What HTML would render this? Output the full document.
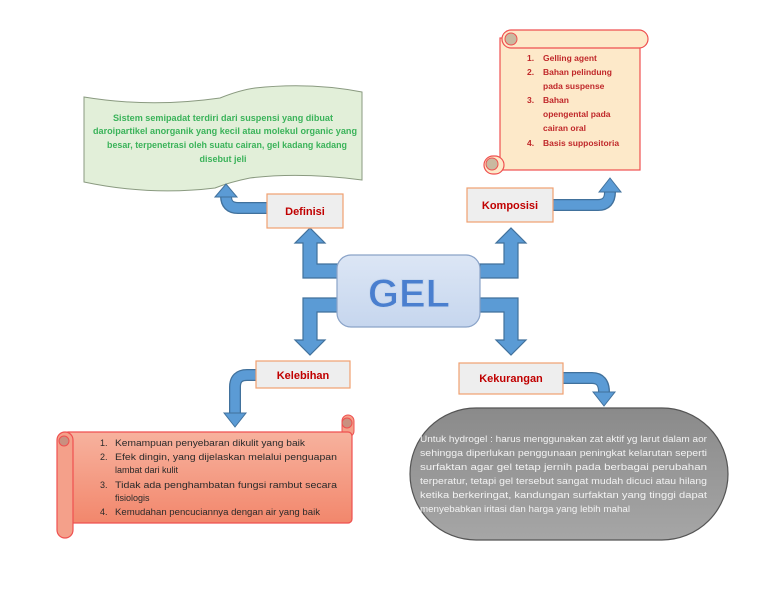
<!DOCTYPE html>
<html><head><meta charset="utf-8"><style>
html,body{margin:0;padding:0;background:#fff;}
svg{display:block;font-family:"Liberation Sans",sans-serif;}
</style></head><body>
<svg width="768" height="594" viewBox="0 0 768 594" xmlns="http://www.w3.org/2000/svg">
<defs>
<linearGradient id="gr" x1="0" y1="0" x2="0" y2="1"><stop offset="0" stop-color="#8a8a8a"/><stop offset="1" stop-color="#a6a6a6"/></linearGradient>
<linearGradient id="sal" x1="0" y1="0" x2="0" y2="1"><stop offset="0" stop-color="#f7b29e"/><stop offset="1" stop-color="#f2876c"/></linearGradient>
<linearGradient id="gb" x1="0" y1="0" x2="0" y2="1"><stop offset="0" stop-color="#dce6f5"/><stop offset="1" stop-color="#c6d6ee"/></linearGradient>
</defs>

<path d="M84,97 Q150,108 220,98 Q240,90 255,88 Q310,82 362,92 L362,180 Q300,172 250,178 Q230,182 215,188 Q150,196 84,182 Z" fill="#e2efd9" stroke="#8a9a80" stroke-width="1"/>
<g fill="#3bb35a" font-size="9" font-weight="bold" text-anchor="start">
<text x="113" y="121" textLength="220" lengthAdjust="spacingAndGlyphs">Sistem semipadat terdiri dari suspensi yang dibuat</text>
<text x="93" y="134" textLength="264" lengthAdjust="spacingAndGlyphs">daroipartikel anorganik yang kecil atau molekul organic yang</text>
<text x="107" y="148" textLength="240" lengthAdjust="spacingAndGlyphs">besar, terpenetrasi oleh suatu cairan, gel kadang kadang</text>
<text x="223" y="162" text-anchor="middle">disebut jeli</text>
</g>

<rect x="500" y="38" width="140" height="132" fill="#fde9c9" stroke="#ef5050" stroke-width="1.2"/>
<rect x="502" y="30" width="146" height="18" rx="9" fill="#fde9c9" stroke="#ef5050" stroke-width="1.2"/>
<circle cx="511" cy="39" r="6" fill="#c9b9a0" stroke="#ef5050"/>
<rect x="484" y="156" width="20" height="18" rx="9" fill="#fde9c9" stroke="#ef5050" stroke-width="1.2"/>
<circle cx="492" cy="164" r="6" fill="#c9b9a0" stroke="#ef5050"/>
<g fill="#c0282a" font-size="8.5" font-weight="bold">
<text x="527" y="61">1.</text><text x="543" y="61">Gelling agent</text>
<text x="527" y="75">2.</text><text x="543" y="75">Bahan pelindung</text>
<text x="543" y="89">pada suspense</text>
<text x="527" y="103">3.</text><text x="543" y="103">Bahan</text>
<text x="543" y="117">opengental pada</text>
<text x="543" y="131">cairan oral</text>
<text x="527" y="146">4.</text><text x="543" y="146">Basis suppositoria</text>
</g>

<g fill="#5b9bd5" stroke="#41719c" stroke-width="1.2">
<polygon points="338,264 317,264 317,243 325,243 310,228 295,243 303,243 303,278 338,278"/>
<polygon points="480,264 504,264 504,243 496,243 511,228 526,243 518,243 518,278 480,278"/>
<polygon points="338,298 303,298 303,340 295,340 310,355 325,340 317,340 317,312 338,312"/>
<polygon points="480,298 518,298 518,340 526,340 511,355 496,340 504,340 504,312 480,312"/>
</g>
<g fill="none" stroke-linecap="butt">
<path d="M267,208 H238 Q226,208 226,196" stroke="#41719c" stroke-width="12"/>
<path d="M268,208 H238 Q226,208 226,195" stroke="#5b9bd5" stroke-width="9.5"/>
<path d="M553,205 H598 Q610,205 610,192" stroke="#41719c" stroke-width="12"/>
<path d="M552,205 H598 Q610,205 610,191" stroke="#5b9bd5" stroke-width="9.5"/>
<path d="M563,378 H592 Q604,378 604,392" stroke="#41719c" stroke-width="12"/>
<path d="M562,378 H592 Q604,378 604,393" stroke="#5b9bd5" stroke-width="9.5"/>
<path d="M256,375 H247 Q235,375 235,387 V413" stroke="#41719c" stroke-width="12"/>
<path d="M257,375 H247 Q235,375 235,387 V414" stroke="#5b9bd5" stroke-width="9.5"/>
</g>
<g fill="#5b9bd5" stroke="#41719c" stroke-width="1">
<polygon points="215,197 226,184 237,197"/>
<polygon points="599,192 610,178 621,192"/>
<polygon points="593,392 604,406 615,392"/>
<polygon points="224,413 235,427 246,413"/>
</g>

<rect x="337" y="255" width="143" height="72" rx="14" fill="url(#gb)" stroke="#8aa3c8" stroke-width="1.2"/>
<text x="409" y="307" text-anchor="middle" font-size="40" font-weight="bold" fill="#4a7fcf" stroke="#c8d8ee" stroke-width="1">GEL</text>

<g fill="#eeeeee" stroke="#f0a070" stroke-width="1.2">
<rect x="267" y="194" width="76" height="34"/>
<rect x="467" y="188" width="86" height="34"/>
<rect x="256" y="361" width="94" height="27"/>
<rect x="459" y="363" width="104" height="31"/>
</g>
<g fill="#c00000" font-size="11" font-weight="bold" text-anchor="middle">
<text x="305" y="215">Definisi</text>
<text x="510" y="209">Komposisi</text>
<text x="303" y="379">Kelebihan</text>
<text x="511" y="382">Kekurangan</text>
</g>

<rect x="342" y="415" width="12" height="22" rx="6" fill="#f4a08a" stroke="#ef5050"/>
<circle cx="347" cy="423" r="5" fill="#c99080" stroke="#ef5050"/>
<rect x="64" y="432" width="288" height="91" rx="4" fill="url(#sal)" stroke="#ef5050" stroke-width="1.2"/>
<rect x="57" y="432" width="16" height="106" rx="8" fill="#f4a08a" stroke="#ef5050" stroke-width="1.2"/>
<circle cx="64" cy="441" r="5" fill="#c99080" stroke="#ef5050"/>
<g fill="#2a2a2a" font-size="9">
<text x="100" y="446">1.</text><text x="115" y="446" textLength="190" lengthAdjust="spacingAndGlyphs">Kemampuan penyebaran dikulit yang baik</text>
<text x="100" y="460">2.</text><text x="115" y="460" textLength="222" lengthAdjust="spacingAndGlyphs">Efek dingin, yang dijelaskan melalui penguapan</text>
<text x="115" y="473">lambat dari kulit</text>
<text x="100" y="488">3.</text><text x="115" y="488" textLength="222" lengthAdjust="spacingAndGlyphs">Tidak ada penghambatan fungsi rambut secara</text>
<text x="115" y="501">fisiologis</text>
<text x="100" y="515">4.</text><text x="115" y="515" textLength="205" lengthAdjust="spacingAndGlyphs">Kemudahan pencuciannya dengan air yang baik</text>
</g>

<rect x="410" y="408" width="318" height="132" rx="66" fill="url(#gr)" stroke="#555" stroke-width="1.2"/>
<g fill="#f2f2f2" font-size="9">
<text x="420" y="442" textLength="287" lengthAdjust="spacingAndGlyphs">Untuk hydrogel : harus menggunakan zat aktif yg larut dalam aor</text>
<text x="420" y="456" textLength="287" lengthAdjust="spacingAndGlyphs">sehingga diperlukan penggunaan peningkat kelarutan seperti</text>
<text x="420" y="470" textLength="287" lengthAdjust="spacingAndGlyphs">surfaktan agar gel tetap jernih pada berbagai perubahan</text>
<text x="420" y="484" textLength="287" lengthAdjust="spacingAndGlyphs">terperatur, tetapi gel tersebut sangat mudah dicuci atau hilang</text>
<text x="420" y="498" textLength="287" lengthAdjust="spacingAndGlyphs">ketika berkeringat, kandungan surfaktan yang tinggi dapat</text>
<text x="420" y="512" textLength="210" lengthAdjust="spacingAndGlyphs">menyebabkan iritasi dan harga yang lebih mahal</text>
</g>
</svg>
</body></html>
